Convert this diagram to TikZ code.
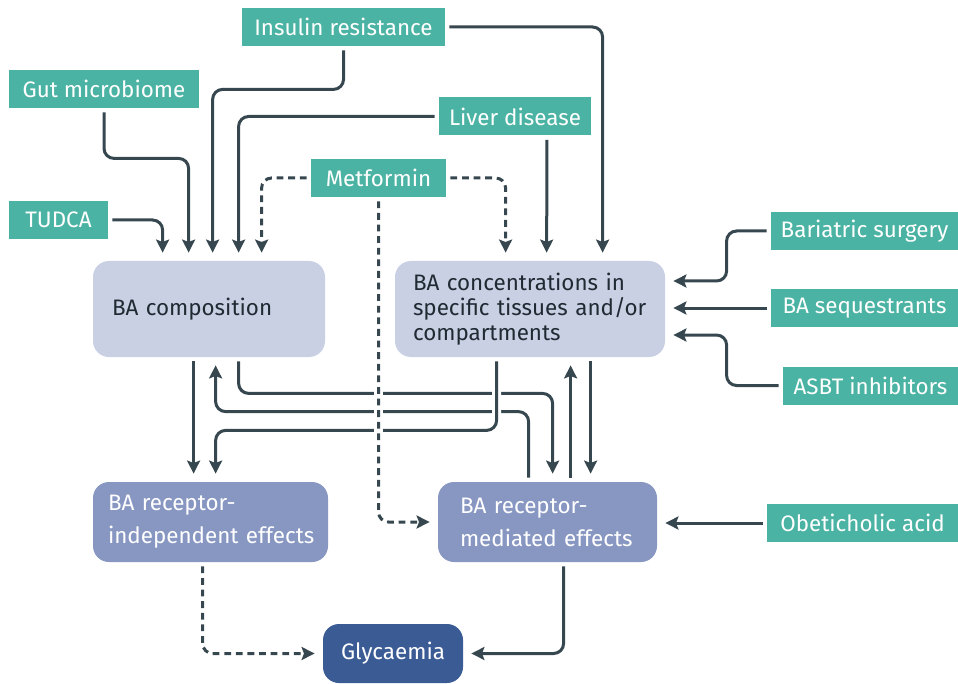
\documentclass[tikz,border=0pt]{standalone}
\usepackage{fontspec}
\setmainfont{Fira Sans}
\usetikzlibrary{arrows.meta,calc}

\definecolor{factorgreen}{HTML}{4BB3A3}
\definecolor{poolblue}{HTML}{C9D0E4}
\definecolor{effectblue}{HTML}{8797C2}
\definecolor{glycblue}{HTML}{3B5B95}
\definecolor{linegrey}{HTML}{37474F}
\definecolor{textdark}{HTML}{1F2A33}

\tikzset{
  factor/.style={fill=factorgreen, text=white, minimum height=19pt, inner sep=0pt},
  pool/.style={fill=poolblue, text=textdark, rounded corners=8pt, minimum height=48pt, align=left},
  effect/.style={fill=effectblue, text=white, rounded corners=8pt, minimum height=40pt, align=left},
  conn/.style={draw=linegrey, line width=1.5pt, rounded corners=5pt,
    -{Stealth[length=6.5pt,width=6.5pt,inset=1.2pt]}, shorten <=2pt, shorten >=4pt},
  dashconn/.style={conn, dash pattern=on 3.4pt off 2.4pt},
  halo/.style={preaction={draw=white, line width=4.4pt, solid, arrows=-}}
}

\begin{document}
\begin{tikzpicture}[x=0.5pt, y=-0.5pt, font=\fontsize{11.2}{13.5}\selectfont]
    \useasboundingbox (0,0) rectangle (958,684);

    % Factors
    \node[factor, minimum width=101.5pt] (insulin) at (343.5,27) {Insulin resistance};
    \node[factor, minimum width=95pt] (gut) at (104,89) {Gut microbiome};
    \node[factor, minimum width=76pt] (liver) at (515,116.5) {Liver disease};
    \node[factor, minimum width=67.5pt] (metformin) at (378.5,178) {Metformin};
    \node[factor, minimum width=49.5pt] (tudca) at (58.5,220) {TUDCA};
    \node[factor, minimum width=93.5pt] (bariatric) at (864.5,231) {Bariatric surgery};
    \node[factor, minimum width=93.5pt] (sequestrants) at (864.5,308) {BA sequestrants};
    \node[factor, minimum width=87.5pt] (asbt) at (870.5,385.5) {ASBT inhibitors};
    \node[factor, minimum width=95.5pt] (obeticholic) at (862.5,523) {Obeticholic acid};

    % Bile acid pools
    \node[pool, text width=97pt, inner xsep=9.5pt] (comp) at (209,309) {BA composition};
    \node[pool, text width=117pt, inner xsep=9pt, font=\fontsize{11.2}{12.6}\selectfont] (conc) at (530,309)
        {\mbox{BA concentrations in}\\\mbox{specific tissues and/or}\\\mbox{compartments}};

    % Effects
    \node[effect, text width=102.5pt, inner xsep=7.5pt, font=\fontsize{11.2}{16.5}\selectfont] (indep) at (210.5,522)
        {\mbox{BA receptor-}\\\mbox{independent effects}};
    \node[effect, text width=87.5pt, inner xsep=11pt, font=\fontsize{11.2}{16.5}\selectfont] (mediated) at (547.5,522)
        {\mbox{BA receptor-}\\\mbox{mediated effects}};
    \node[fill=glycblue, text=white, rounded corners=8pt, minimum width=70pt, minimum height=29.5pt] (glyc) at (393,653.5) {Glycaemia};

    % Into BA composition
    \draw[conn] (tudca.east) -| ($(comp.north west)+(70,0)$);
    \draw[conn] (gut.south) -- ++(0,50) -| ($(comp.north west)+(96,0)$);
    \draw[conn] (insulin.south) -- ++(0,43) -| ($(comp.north west)+(120,0)$);
    \draw[conn] (liver.west) -| ($(comp.north west)+(146,0)$);
    \draw[dashconn] (metformin.west) -| ($(comp.north west)+(169,0)$);

    % Into BA concentrations
    \draw[dashconn] (metformin.east) -| ($(conc.north west)+(111,0)$);
    \draw[conn] ($(liver.south)+(32,0)$) -- ($(conc.north west)+(152,0)$);
    \draw[conn] (insulin.east) -| ($(conc.north west)+(208,0)$);
    \draw[conn] (bariatric.west) -- ++(-44,0) |- ($(conc.east)+(0,-28)$);
    \draw[conn] (sequestrants.west) -- (sequestrants.west -| conc.east);
    \draw[conn] (asbt.west) -- ++(-56,0) |- ($(conc.east)+(0,26)$);

    % Between pools and effects
    \draw[conn] ($(comp.south west)+(101,0)$) -- ($(indep.north west)+(101,0)$);
    \draw[conn] ($(comp.south west)+(146,0)$) -- ++(0,36) -| ($(mediated.north west)+(115,0)$);
    \draw[conn] ($(mediated.north west)+(91,0)$) -- ++(0,-70) -| ($(comp.south west)+(123,0)$);
    \draw[conn] ($(mediated.north west)+(133,0)$) -- ($(conc.south west)+(176,0)$);
    \draw[conn] ($(conc.south west)+(196,0)$) -- ($(mediated.north west)+(153,0)$);
    \draw[conn, halo] ($(conc.south west)+(102,0)$) -- ++(0,73) -| ($(indep.north west)+(123,0)$);
    \draw[dashconn, halo] (metformin.south) |- (mediated.west);
    \draw[conn] (obeticholic.west) -- (obeticholic.west -| mediated.east);

    % Glycaemia
    \draw[dashconn] ($(indep.south west)+(110,0)$) |- (glyc.west);
    \draw[conn] ($(mediated.south west)+(126,0)$) |- (glyc.east);
\end{tikzpicture}
\end{document}
